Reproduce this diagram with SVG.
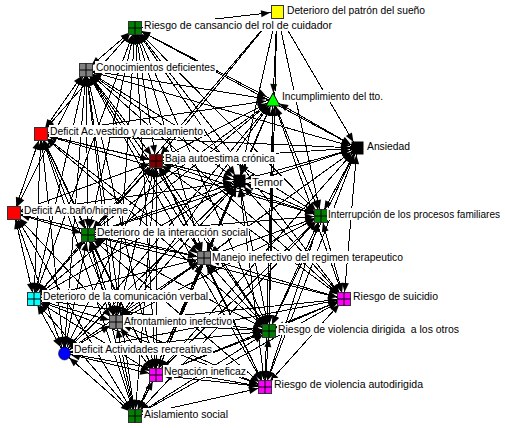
<svg xmlns="http://www.w3.org/2000/svg" xmlns:xlink="http://www.w3.org/1999/xlink" width="505" height="428" viewBox="0 0 505 428">
<style>
.c line{stroke:#000;stroke-width:1;marker-start:url(#a);marker-end:url(#a);shape-rendering:crispEdges}
.c line.s{marker-start:none}
text{font-family:"Liberation Sans",Arial,sans-serif;font-size:11px;fill:#000}
.bg{fill:#fff}
.sq{stroke:#333;stroke-width:1}
</style>
<defs>
<marker id="a" markerUnits="userSpaceOnUse" markerWidth="10" markerHeight="8" refX="16" refY="3.5" orient="auto-start-reverse" overflow="visible"><path d="M0,0L9,3.5L0,7z" fill="#000"/></marker>
<g id="grid"><rect x="-6.5" y="-6.5" width="13" height="13" stroke="#333"/><path d="M0,-6.5V6.5M-6.5,0H6.5" stroke="#000" fill="none"/></g>
</defs>
<rect width="505" height="428" fill="#fff"/>
<g class="c" id="connectors">
<line class="s" x1="135" y1="28" x2="277" y2="12"/>
<line class="s" x1="277" y1="12" x2="273" y2="100"/>
<line class="s" x1="277" y1="12" x2="357" y2="148"/>
<line class="s" x1="277" y1="12" x2="156" y2="161"/>
<line class="s" x1="277" y1="12" x2="239" y2="181"/>
<line class="s" x1="277" y1="12" x2="321" y2="216"/>
<line class="s" x1="277" y1="12" x2="88" y2="235"/>
<line class="s" x1="277" y1="12" x2="269" y2="331"/>
<line x1="135" y1="28" x2="86" y2="70"/>
<line x1="135" y1="28" x2="273" y2="100"/>
<line x1="135" y1="28" x2="41" y2="134"/>
<line x1="135" y1="28" x2="357" y2="148"/>
<line x1="135" y1="28" x2="156" y2="161"/>
<line x1="135" y1="28" x2="239" y2="181"/>
<line x1="135" y1="28" x2="321" y2="216"/>
<line x1="135" y1="28" x2="88" y2="235"/>
<line x1="135" y1="28" x2="204" y2="258"/>
<line x1="135" y1="28" x2="34" y2="299"/>
<line x1="135" y1="28" x2="344" y2="299"/>
<line x1="135" y1="28" x2="116" y2="322"/>
<line x1="135" y1="28" x2="269" y2="331"/>
<line x1="135" y1="28" x2="156" y2="375"/>
<line x1="86" y1="70" x2="273" y2="100"/>
<line x1="86" y1="70" x2="41" y2="134"/>
<line x1="86" y1="70" x2="357" y2="148"/>
<line x1="86" y1="70" x2="156" y2="161"/>
<line x1="86" y1="70" x2="239" y2="181"/>
<line x1="86" y1="70" x2="14" y2="213"/>
<line x1="86" y1="70" x2="321" y2="216"/>
<line x1="86" y1="70" x2="88" y2="235"/>
<line x1="86" y1="70" x2="204" y2="258"/>
<line x1="86" y1="70" x2="34" y2="299"/>
<line x1="86" y1="70" x2="344" y2="299"/>
<line x1="86" y1="70" x2="116" y2="322"/>
<line x1="86" y1="70" x2="269" y2="331"/>
<line x1="86" y1="70" x2="64" y2="353"/>
<line x1="86" y1="70" x2="156" y2="375"/>
<line x1="86" y1="70" x2="265" y2="387"/>
<line x1="86" y1="70" x2="135" y2="416"/>
<line x1="273" y1="100" x2="41" y2="134"/>
<line x1="273" y1="100" x2="357" y2="148"/>
<line x1="273" y1="100" x2="156" y2="161"/>
<line x1="273" y1="100" x2="239" y2="181"/>
<line x1="273" y1="100" x2="321" y2="216"/>
<line x1="273" y1="100" x2="88" y2="235"/>
<line x1="273" y1="100" x2="204" y2="258"/>
<line x1="273" y1="100" x2="34" y2="299"/>
<line x1="273" y1="100" x2="344" y2="299"/>
<line x1="273" y1="100" x2="116" y2="322"/>
<line x1="273" y1="100" x2="269" y2="331"/>
<line x1="273" y1="100" x2="64" y2="353"/>
<line x1="273" y1="100" x2="156" y2="375"/>
<line x1="273" y1="100" x2="265" y2="387"/>
<line x1="273" y1="100" x2="135" y2="416"/>
<line x1="41" y1="134" x2="357" y2="148"/>
<line x1="41" y1="134" x2="156" y2="161"/>
<line x1="41" y1="134" x2="239" y2="181"/>
<line x1="41" y1="134" x2="14" y2="213"/>
<line x1="41" y1="134" x2="321" y2="216"/>
<line x1="41" y1="134" x2="88" y2="235"/>
<line x1="41" y1="134" x2="204" y2="258"/>
<line x1="41" y1="134" x2="34" y2="299"/>
<line x1="41" y1="134" x2="116" y2="322"/>
<line x1="41" y1="134" x2="269" y2="331"/>
<line x1="41" y1="134" x2="64" y2="353"/>
<line x1="41" y1="134" x2="156" y2="375"/>
<line x1="41" y1="134" x2="135" y2="416"/>
<line x1="357" y1="148" x2="156" y2="161"/>
<line x1="357" y1="148" x2="239" y2="181"/>
<line x1="357" y1="148" x2="321" y2="216"/>
<line x1="357" y1="148" x2="88" y2="235"/>
<line x1="357" y1="148" x2="204" y2="258"/>
<line x1="357" y1="148" x2="344" y2="299"/>
<line x1="357" y1="148" x2="116" y2="322"/>
<line x1="357" y1="148" x2="269" y2="331"/>
<line x1="357" y1="148" x2="156" y2="375"/>
<line x1="357" y1="148" x2="265" y2="387"/>
<line x1="156" y1="161" x2="239" y2="181"/>
<line x1="156" y1="161" x2="14" y2="213"/>
<line x1="156" y1="161" x2="321" y2="216"/>
<line x1="156" y1="161" x2="88" y2="235"/>
<line x1="156" y1="161" x2="204" y2="258"/>
<line x1="156" y1="161" x2="34" y2="299"/>
<line x1="156" y1="161" x2="344" y2="299"/>
<line x1="156" y1="161" x2="116" y2="322"/>
<line x1="156" y1="161" x2="269" y2="331"/>
<line x1="156" y1="161" x2="64" y2="353"/>
<line x1="156" y1="161" x2="156" y2="375"/>
<line x1="156" y1="161" x2="265" y2="387"/>
<line x1="156" y1="161" x2="135" y2="416"/>
<line x1="239" y1="181" x2="14" y2="213"/>
<line x1="239" y1="181" x2="321" y2="216"/>
<line x1="239" y1="181" x2="88" y2="235"/>
<line x1="239" y1="181" x2="204" y2="258"/>
<line x1="239" y1="181" x2="34" y2="299"/>
<line x1="239" y1="181" x2="344" y2="299"/>
<line x1="239" y1="181" x2="116" y2="322"/>
<line x1="239" y1="181" x2="269" y2="331"/>
<line x1="239" y1="181" x2="64" y2="353"/>
<line x1="239" y1="181" x2="156" y2="375"/>
<line x1="239" y1="181" x2="265" y2="387"/>
<line x1="239" y1="181" x2="135" y2="416"/>
<line x1="14" y1="213" x2="88" y2="235"/>
<line x1="14" y1="213" x2="204" y2="258"/>
<line x1="14" y1="213" x2="34" y2="299"/>
<line x1="14" y1="213" x2="116" y2="322"/>
<line x1="14" y1="213" x2="64" y2="353"/>
<line x1="14" y1="213" x2="135" y2="416"/>
<line x1="321" y1="216" x2="88" y2="235"/>
<line x1="321" y1="216" x2="204" y2="258"/>
<line x1="321" y1="216" x2="344" y2="299"/>
<line x1="321" y1="216" x2="116" y2="322"/>
<line x1="321" y1="216" x2="269" y2="331"/>
<line x1="321" y1="216" x2="156" y2="375"/>
<line x1="321" y1="216" x2="265" y2="387"/>
<line x1="321" y1="216" x2="135" y2="416"/>
<line x1="88" y1="235" x2="204" y2="258"/>
<line x1="88" y1="235" x2="34" y2="299"/>
<line x1="88" y1="235" x2="344" y2="299"/>
<line x1="88" y1="235" x2="116" y2="322"/>
<line x1="88" y1="235" x2="269" y2="331"/>
<line x1="88" y1="235" x2="64" y2="353"/>
<line x1="88" y1="235" x2="156" y2="375"/>
<line x1="88" y1="235" x2="265" y2="387"/>
<line x1="88" y1="235" x2="135" y2="416"/>
<line x1="204" y1="258" x2="34" y2="299"/>
<line x1="204" y1="258" x2="344" y2="299"/>
<line x1="204" y1="258" x2="116" y2="322"/>
<line x1="204" y1="258" x2="269" y2="331"/>
<line x1="204" y1="258" x2="64" y2="353"/>
<line x1="204" y1="258" x2="156" y2="375"/>
<line x1="204" y1="258" x2="265" y2="387"/>
<line x1="204" y1="258" x2="135" y2="416"/>
<line x1="34" y1="299" x2="116" y2="322"/>
<line x1="34" y1="299" x2="269" y2="331"/>
<line x1="34" y1="299" x2="64" y2="353"/>
<line x1="34" y1="299" x2="156" y2="375"/>
<line x1="34" y1="299" x2="265" y2="387"/>
<line x1="34" y1="299" x2="135" y2="416"/>
<line x1="344" y1="299" x2="116" y2="322"/>
<line x1="344" y1="299" x2="269" y2="331"/>
<line x1="344" y1="299" x2="64" y2="353"/>
<line x1="344" y1="299" x2="156" y2="375"/>
<line x1="344" y1="299" x2="265" y2="387"/>
<line x1="344" y1="299" x2="135" y2="416"/>
<line x1="116" y1="322" x2="269" y2="331"/>
<line x1="116" y1="322" x2="64" y2="353"/>
<line x1="116" y1="322" x2="156" y2="375"/>
<line x1="116" y1="322" x2="265" y2="387"/>
<line x1="116" y1="322" x2="135" y2="416"/>
<line x1="269" y1="331" x2="64" y2="353"/>
<line x1="269" y1="331" x2="156" y2="375"/>
<line x1="269" y1="331" x2="265" y2="387"/>
<line x1="269" y1="331" x2="135" y2="416"/>
<line x1="64" y1="353" x2="156" y2="375"/>
<line x1="64" y1="353" x2="265" y2="387"/>
<line x1="64" y1="353" x2="135" y2="416"/>
<line x1="156" y1="375" x2="265" y2="387"/>
<line x1="156" y1="375" x2="135" y2="416"/>
<line x1="265" y1="387" x2="135" y2="416"/>
</g>
<g id="n-sueno"><rect class="sq" x="271.5" y="5.5" width="12" height="13" fill="#ffff00" stroke="#000"/><rect class="bg" x="286" y="4" width="140" height="12"/><text x="287" y="14" textLength="138" lengthAdjust="spacingAndGlyphs">Deterioro del patrón del sueño</text></g>
<g id="n-cansancio"><use xlink:href="#grid" href="#grid" x="135" y="28" fill="#008000"/><rect class="bg" x="143" y="19" width="190" height="12"/><text x="144" y="29" textLength="188" lengthAdjust="spacingAndGlyphs">Riesgo de cansancio del rol de cuidador</text></g>
<g id="n-conocimientos"><use xlink:href="#grid" href="#grid" x="86" y="70" fill="#808080"/><rect class="bg" x="95" y="61" width="121" height="12"/><text x="96" y="71" textLength="119" lengthAdjust="spacingAndGlyphs">Conocimientos deficientes</text></g>
<g id="n-incumplimiento"><path d="M273,93L280,106H266Z" fill="#00ff00" stroke="#000"/><rect class="bg" x="281" y="90" width="103" height="12"/><text x="282" y="100" textLength="101" lengthAdjust="spacingAndGlyphs">Incumplimiento del tto.</text></g>
<g id="n-vestido"><rect x="34.5" y="127.5" width="13" height="13" fill="#ff0000" stroke="#333"/><rect class="bg" x="49" y="125" width="155" height="12"/><text x="50" y="135" textLength="153" lengthAdjust="spacingAndGlyphs">Deficit Ac.vestido y acicalamiento</text></g>
<g id="n-ansiedad"><rect x="351.5" y="141.5" width="12" height="13" fill="#000"/><rect class="bg" x="366" y="140" width="45" height="12"/><text x="367" y="150" textLength="43" lengthAdjust="spacingAndGlyphs">Ansiedad</text></g>
<g id="n-baja"><use xlink:href="#grid" href="#grid" x="156" y="161" fill="#800000"/><rect class="bg" x="164" y="152" width="112" height="12"/><text x="165" y="162" textLength="110" lengthAdjust="spacingAndGlyphs">Baja autoestima crónica</text></g>
<g id="n-temor"><rect x="233.5" y="174.5" width="12" height="13" fill="#000"/><rect class="bg" x="251" y="176" width="33" height="12"/><text x="252" y="186" textLength="31" lengthAdjust="spacingAndGlyphs">Temor</text></g>
<g id="n-bano"><rect x="7.5" y="206.5" width="13" height="13" fill="#ff0000" stroke="#333"/><rect class="bg" x="23" y="204" width="106" height="12"/><text x="24" y="214" textLength="104" lengthAdjust="spacingAndGlyphs">Deficit Ac.baño/higiene</text></g>
<g id="n-interrupcion"><use xlink:href="#grid" href="#grid" x="321" y="216" fill="#008000"/><rect class="bg" x="327" y="208" width="175" height="12"/><text x="328" y="218" font-size="10px" style="font-size:10px" textLength="172" lengthAdjust="spacingAndGlyphs">Interrupción de los procesos familiares</text></g>
<g id="n-interaccion"><use xlink:href="#grid" href="#grid" x="88" y="235" fill="#008000"/><rect class="bg" x="96" y="226" width="153" height="12"/><text x="97" y="236" textLength="151" lengthAdjust="spacingAndGlyphs">Deterioro de la interacción social</text></g>
<g id="n-manejo"><use xlink:href="#grid" href="#grid" x="204" y="258" fill="#808080"/><rect class="bg" x="211" y="251" width="193" height="12"/><text x="212" y="261" textLength="191" lengthAdjust="spacingAndGlyphs">Manejo inefectivo del regimen terapeutico</text></g>
<g id="n-comunicacion"><use xlink:href="#grid" href="#grid" x="34" y="299" fill="#00ffff"/><rect class="bg" x="42" y="290" width="167" height="12"/><text x="43" y="300" textLength="165" lengthAdjust="spacingAndGlyphs">Deterioro de la comunicación verbal</text></g>
<g id="n-suicidio"><use xlink:href="#grid" href="#grid" x="344" y="299" fill="#ff00ff"/><rect class="bg" x="352" y="290" width="87" height="12"/><text x="353" y="300" textLength="85" lengthAdjust="spacingAndGlyphs">Riesgo de suicidio</text></g>
<g id="n-afrontamiento"><use xlink:href="#grid" href="#grid" x="116" y="322" fill="#808080"/><rect class="bg" x="123" y="315" width="110" height="12"/><text x="124" y="325" textLength="108" lengthAdjust="spacingAndGlyphs">Afrontamiento inefectivo</text></g>
<g id="n-violencia-otros"><use xlink:href="#grid" href="#grid" x="269" y="331" fill="#008000"/><rect class="bg" x="277" y="323" width="183" height="12"/><text x="278" y="333" textLength="181" lengthAdjust="spacingAndGlyphs" xml:space="preserve">Riesgo de violencia dirigida  a los otros</text></g>
<g id="n-recreativas"><ellipse cx="64.5" cy="353.5" rx="6" ry="6.5" fill="#0000ff" stroke="#000" stroke-width="0.5"/><rect class="bg" x="73" y="343" width="140" height="12"/><text x="74" y="353" textLength="138" lengthAdjust="spacingAndGlyphs">Deficit Actividades recreativas</text></g>
<g id="n-negacion"><use xlink:href="#grid" href="#grid" x="156" y="375" fill="#ff00ff"/><rect class="bg" x="163" y="365" width="84" height="12"/><text x="164" y="375" textLength="82" lengthAdjust="spacingAndGlyphs">Negación ineficaz</text></g>
<g id="n-violencia-auto"><use xlink:href="#grid" href="#grid" x="265" y="387" fill="#ff00ff"/><rect class="bg" x="273" y="378" width="151" height="12"/><text x="274" y="388" textLength="149" lengthAdjust="spacingAndGlyphs">Riesgo de violencia autodirigida</text></g>
<g id="n-aislamiento"><use xlink:href="#grid" href="#grid" x="135" y="416" fill="#008000"/><rect class="bg" x="143" y="408" width="86" height="12"/><text x="144" y="418" textLength="84" lengthAdjust="spacingAndGlyphs">Aislamiento social</text></g>
</svg>
